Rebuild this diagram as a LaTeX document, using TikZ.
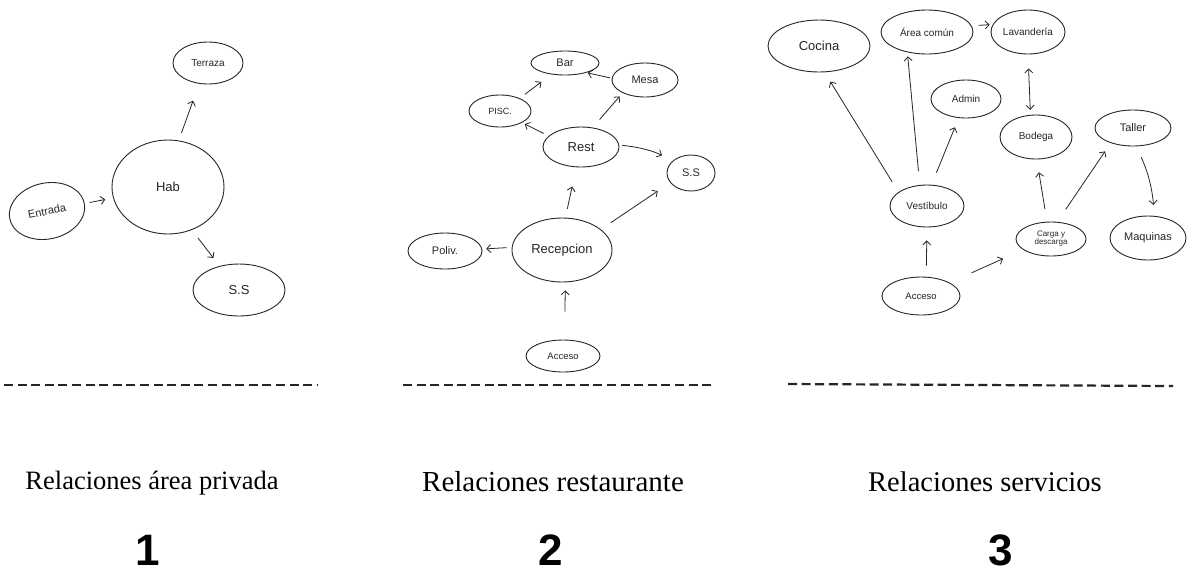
\documentclass[tikz,border=0pt]{standalone}
\usepackage{fontspec}
\setmainfont{Liberation Serif}
\newfontfamily\handfont{Liberation Sans}
\usetikzlibrary{shapes.geometric,arrows.meta}
\begin{document}
\begin{tikzpicture}[x=1pt,y=1pt,
  bub/.style={ellipse,draw=black!85,line width=0.9pt,inner sep=0pt,text=black!85},
  fs/.style={font=\handfont\fontsize{#1}{#1}\selectfont},
  arr/.style={-{Straight Barb[length=4pt,width=8pt]},line width=0.8pt,draw=black!85},
  darr/.style={{Straight Barb[length=4pt,width=8pt]}-{Straight Barb[length=4pt,width=8pt]},line width=0.8pt,draw=black!85},
  dline/.style={line width=2.2pt,draw=black!85,dash pattern=on 9pt off 4.6pt},
  caption/.style={inner sep=0pt,anchor=base},
  numlabel/.style={inner sep=0pt,anchor=base,font=\handfont\bfseries\fontsize{44}{44}\selectfont}
]
\path[use as bounding box,fill=white] (0,0) rectangle (1194,-574);

% ---------- Panel 1 ----------
\node[bub,fs=10,minimum width=70pt,minimum height=42pt] (ter) at (208,-63) {Terraza};
\node[bub,fs=13,minimum width=112pt,minimum height=94pt] (hab) at (168,-187) {Hab};
\node[bub,fs=11,minimum width=76pt,minimum height=56pt,rotate=12] (ent) at (47,-211) {Entrada};
\node[bub,fs=13,minimum width=92pt,minimum height=52pt] (ssa) at (239,-290) {S.S};

\draw[arr,shorten <=5pt,shorten >=8pt] (ent) -- (hab);
\draw[arr,shorten <=8pt,shorten >=18pt] (hab.77) -- (ter.247);
\draw[arr,shorten <=10pt,shorten >=10pt] (hab.299) -- (ssa.129);

% ---------- Panel 2 ----------
\node[bub,fs=11,minimum width=68pt,minimum height=24pt] (bar) at (565,-63) {Bar};
\node[bub,fs=11,minimum width=66pt,minimum height=34pt] (mesa) at (645,-80) {Mesa};
\node[bub,fs=9,minimum width=62pt,minimum height=32pt] (pisc) at (500,-111) {PISC.};
\node[bub,fs=13,minimum width=76pt,minimum height=40pt] (rest) at (581,-147) {Rest};
\node[bub,fs=11,minimum width=48pt,minimum height=36pt] (ssb) at (691,-173) {S.S};
\node[bub,fs=11,minimum width=74pt,minimum height=36pt] (poliv) at (445,-251) {Poliv.};
\node[bub,fs=13,minimum width=100pt,minimum height=64pt] (recep) at (562,-250) {Recepcion};
\node[bub,fs=9.5,minimum width=74pt,minimum height=32pt] (accb) at (563,-356) {Acceso};

\draw[arr,shorten <=6.6pt,shorten >=12.6pt] (pisc.33) -- (bar.220);
\draw[arr,shorten <=1.5pt,shorten >=1pt] (mesa.177) -- (bar.336);
\draw[arr,shorten <=10.5pt,shorten >=4.6pt] (rest.59) -- (mesa.210);
\draw[arr,shorten <=5.7pt,shorten >=3pt] (rest.161) -- (pisc.332);
\draw[arr,shorten <=3pt,shorten >=12pt] (rest.3) to[bend left=10] (ssb.146);
\draw[arr,shorten <=9pt,shorten >=19.6pt] (recep.84) -- (rest.257);
\draw[arr,shorten <=12pt,shorten >=15pt] (recep.28) -- (ssb.205);
\draw[arr,shorten <=5pt,shorten >=4pt] (recep.177) -- (poliv.3);
\draw[arr,shorten <=28pt,shorten >=8pt] (accb.85) -- (recep.276);

% ---------- Panel 3 ----------
\node[bub,fs=13,minimum width=102pt,minimum height=52pt] (coc) at (819,-46) {Cocina};
\node[bub,fs=10,minimum width=92pt,minimum height=44pt] (area) at (927,-32) {Área común};
\node[bub,fs=10,minimum width=74pt,minimum height=44pt] (lav) at (1028,-32) {Lavandería};
\node[bub,fs=10,minimum width=70pt,minimum height=38pt] (adm) at (966,-99) {Admin};
\node[bub,fs=10,minimum width=72pt,minimum height=44pt] (bod) at (1036,-137) {Bodega};
\node[bub,fs=11,minimum width=76pt,minimum height=36pt] (tal) at (1133,-128) {Taller};
\node[bub,fs=10,minimum width=74pt,minimum height=42pt] (ves) at (927,-206) {Vestíbulo};
\node[bub,fs=8,align=center,minimum width=70pt,minimum height=34pt] (carga) at (1051,-239) {Carga y\\descarga};
\node[bub,fs=11,minimum width=76pt,minimum height=44pt] (maq) at (1148,-238) {Maquinas};
\node[bub,fs=9.5,minimum width=78pt,minimum height=38pt] (accc) at (921,-296) {Acceso};

\draw[arr,shorten <=12pt,shorten >=11pt] (ves.154) -- (coc.282);
\draw[arr,shorten <=14pt,shorten >=4pt] (ves.109) -- (area.226);
\draw[arr,shorten <=13pt,shorten >=10pt] (ves.78) -- (adm.249);
\draw[arr,shorten <=7pt,shorten >=3pt] (area.8) -- (lav.168);
\draw[darr,shorten <=14pt,shorten >=5pt] (lav.south) -- (bod.104);
\draw[arr,shorten <=11pt,shorten >=13pt] (accc.75) -- (ves.south);
\draw[arr,shorten <=24pt,shorten >=22pt] (accc.25) -- (carga.201);
\draw[arr,shorten <=13pt,shorten >=13pt] (carga.103) -- (bod.272);
\draw[arr,shorten <=15pt,shorten >=10pt] (carga.70) -- (tal.214);
\draw[arr,shorten <=12pt,shorten >=11pt] (tal.280) to[bend left=10] (maq.74);

% ---------- Dashed separators ----------
\draw[dline] (4,-385) -- (317,-385);
\draw[dline] (403,-385) -- (715,-385);
\draw[dline] (788,-384) -- (1173,-386);

% ---------- Captions ----------
\node[caption,font=\fontsize{26.5}{30}\selectfont] (capa) at (152,-489) {Relaciones área privada};
\node[caption,font=\fontsize{29}{32}\selectfont] (capb) at (553,-491) {Relaciones restaurante};
\node[caption,anchor=base west,font=\fontsize{28.5}{32}\selectfont] (capc) at (868,-491) {Relaciones servicios};

\node[numlabel] (numa) at (148,-565) {1};
\node[numlabel] (numb) at (551,-565) {2};
\node[numlabel] (numc) at (1001,-565) {3};
\end{tikzpicture}
\end{document}
